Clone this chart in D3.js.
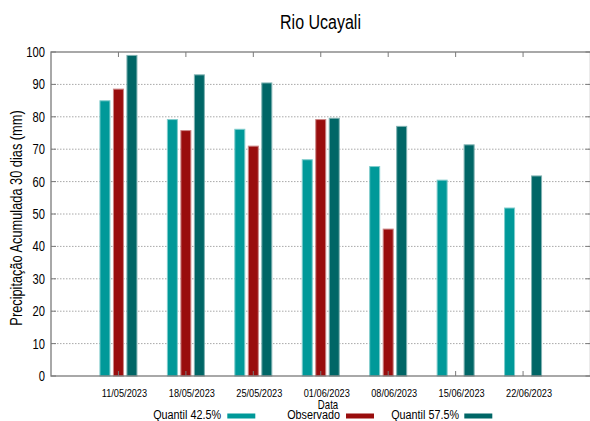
<!DOCTYPE html>
<html>
<head>
<meta charset="utf-8">
<script src="https://cdn.jsdelivr.net/npm/d3@7"></script>
<style>
  html, body { margin: 0; padding: 0; background: #fff; }
  svg { display: block; font-family: "Liberation Sans", Arial, sans-serif; }
</style>
</head>
<body>
<svg id="chart" width="590" height="421"></svg>
<script>
// ---- data ----
const categories = ["11/05/2023", "18/05/2023", "25/05/2023", "01/06/2023", "08/06/2023", "15/06/2023", "22/06/2023"];
const seriesNames = ["Quantil 42.5%", "Observado", "Quantil 57.5%"];
const quantil425 = [85.1, 79.3, 76.3, 66.9, 64.8, 60.6, 52.0];
const observado  = [88.7, 75.9, 71.1, 79.3, 45.5, null, null];
const quantil575 = [99.1, 93.1, 90.6, 79.7, 77.2, 71.5, 61.9];
const yTicks = [0, 10, 20, 30, 40, 50, 60, 70, 80, 90, 100];
const colors = ["#009999", "#990d0d", "#006666"];
const strokes = ["#7fcccc", "#cc8686", "#7fb2b2"];

const seriesValues = [quantil425, observado, quantil575];

const svg = d3.select("#chart");
const L = 51, R = 590.5, T = 52, B = 376;
const SX = 0.8; // horizontal text compression

const x = d3.scaleBand().domain(categories).range([L, R]).paddingInner(0).paddingOuter(0.5);
const xs = d3.scaleBand().domain(seriesNames).range([-19, 19]).paddingInner(2.5 / 13.5).paddingOuter(0);
const y = d3.scaleLinear().domain([0, 100]).range([B, T]);
const cx = c => x(c) + x.bandwidth() / 2;

function text(g, px, py, str, size, anchor, rot) {
  return g.append("text")
    .attr("transform", `translate(${px},${py})` + (rot ? ` rotate(${rot})` : "") + ` scale(${SX},1)`)
    .attr("font-size", size)
    .attr("fill", "#000")
    .attr("text-anchor", anchor || "start")
    .text(str);
}

// grid
svg.append("g").selectAll("line").data(yTicks.filter(v => v > 0 && v < 100)).join("line")
  .attr("x1", L).attr("x2", R)
  .attr("y1", d => y(d)).attr("y2", d => y(d))
  .attr("stroke", "#a8a8a8").attr("stroke-width", 1)
  .attr("stroke-dasharray", "1.5,1.5");

// bars
const bars = svg.append("g");
seriesValues.forEach((vals, si) => {
  bars.append("g").selectAll("rect")
    .data(categories.map((c, i) => ({ c, v: vals[i] })).filter(d => d.v != null))
    .join("rect")
    .attr("x", d => cx(d.c) + xs(seriesNames[si]) + 0.5)
    .attr("width", xs.bandwidth() - 1)
    .attr("y", d => y(d.v) + 0.5)
    .attr("height", d => y(0) - y(d.v) - 0.5)
    .attr("fill", colors[si])
    .attr("stroke", strokes[si])
    .attr("stroke-width", 1);
});

// border
const axisCol = "#7a7a7a";
svg.append("rect").attr("x", L).attr("y", T).attr("width", R - L).attr("height", B - T)
  .attr("fill", "none").attr("stroke", axisCol).attr("stroke-width", 1.3);

// y ticks (left + mirror)
const ty = svg.append("g");
yTicks.forEach(v => {
  ty.append("line").attr("x1", L).attr("x2", L + 5).attr("y1", y(v)).attr("y2", y(v)).attr("stroke", axisCol).attr("stroke-width", 1);
  ty.append("line").attr("x1", R - 5).attr("x2", R).attr("y1", y(v)).attr("y2", y(v)).attr("stroke", axisCol).attr("stroke-width", 1);
  text(ty, 45, y(v) + 5, String(v), 14, "end");
});

// x ticks (top + bottom)
const tx = svg.append("g");
categories.forEach(c => {
  tx.append("line").attr("x1", cx(c)).attr("x2", cx(c)).attr("y1", T).attr("y2", T + 5).attr("stroke", axisCol).attr("stroke-width", 1);
  tx.append("line").attr("x1", cx(c)).attr("x2", cx(c)).attr("y1", B - 5).attr("y2", B).attr("stroke", axisCol).attr("stroke-width", 1);
  text(tx, cx(c) + 6, 396.5, c, 11.5, "middle");
});

// titles
text(svg, 320.5, 29, "Rio Ucayali", 20, "middle");
text(svg, 328, 409, "Data", 12, "middle");
text(svg, 22, 218, "Precipitação Acumulada 30 dias (mm)", 16, "middle", -90);

// legend
const legend = svg.append("g");
const legendItems = [
  { textRight: 221, sx: 227.3 },
  { textRight: 340, sx: 346 },
  { textRight: 459, sx: 464.3 }
];
seriesNames.forEach((n, i) => {
  text(legend, legendItems[i].textRight, 418.5, n, 13.5, "end");
  legend.append("rect").attr("x", legendItems[i].sx).attr("y", 413.5).attr("width", 28).attr("height", 5)
    .attr("fill", colors[i]);
});
</script>
</body>
</html>
